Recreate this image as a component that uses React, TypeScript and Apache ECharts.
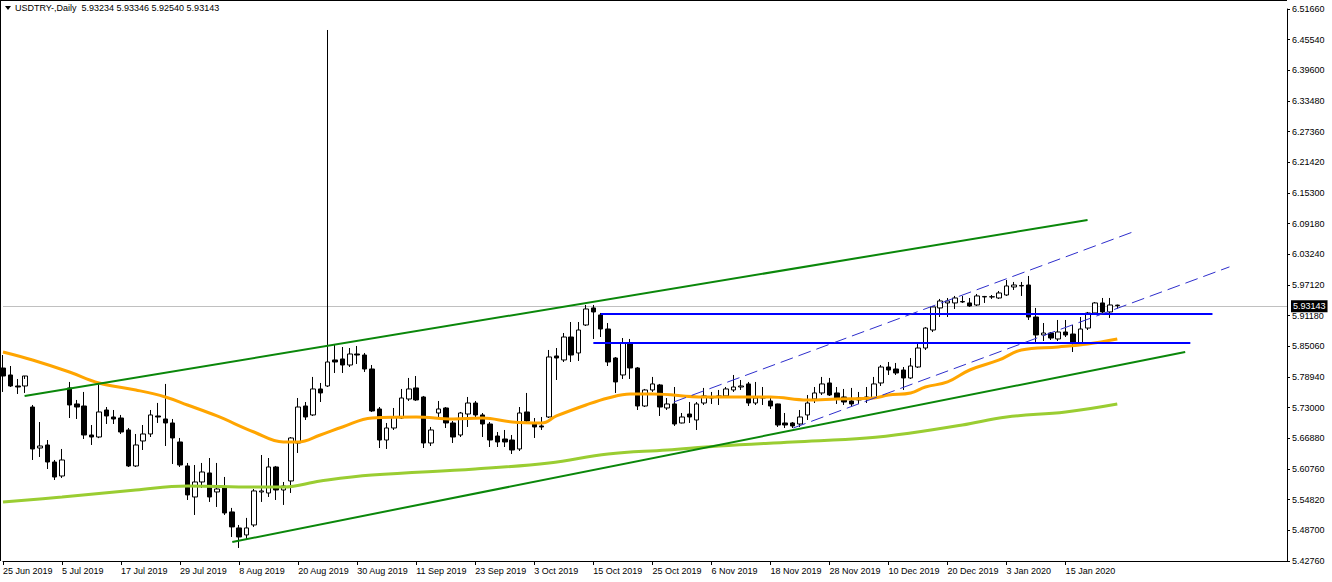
import React, { useEffect, useRef } from 'react';
import * as echarts from 'echarts';

// OHLC per daily bar (USDTRY)
const opens = [
  5.8083, 5.7946, 5.7729, 5.7729, 5.7314, 5.6505, 5.6565, 5.6229, 5.5953, 5.769,
  5.7374, 5.7334, 5.6762, 5.6722, 5.7255, 5.7117, 5.7097, 5.6861, 5.6151, 5.6644,
  5.6782, 5.7137, 5.7078, 5.6999, 5.6624, 5.6151, 5.5539, 5.5835, 5.6013, 5.5638,
  5.5717, 5.5244, 5.4928, 5.479, 5.4987, 5.5638, 5.5618, 5.6131, 5.5677, 5.5855,
  5.6604, 5.7334, 5.7157, 5.767, 5.7729, 5.8242, 5.8262, 5.8143, 5.836, 5.834,
  5.8064, 5.7275, 5.6663, 5.69, 5.7097, 5.7472, 5.769, 5.7512, 5.6604, 5.7196,
  5.7295, 5.6999, 5.6762, 5.7176, 5.7393, 5.7157, 5.6979, 5.6742, 5.6683, 5.6663,
  5.6486, 5.7216, 5.6999, 5.694, 5.7117, 5.8321, 5.8242, 5.8695, 5.838, 5.8932,
  5.9268, 5.913, 5.8853, 5.8281, 5.7946, 5.8577, 5.8084, 5.7334, 5.765, 5.7749,
  5.7295, 5.7374, 5.6999, 5.7176, 5.7058, 5.7393, 5.7492, 5.7512, 5.7532, 5.765,
  5.7709, 5.7769, 5.7393, 5.7492, 5.7433, 5.7374, 5.6999, 5.6999, 5.6979, 5.7157,
  5.7472, 5.7591, 5.7788, 5.7591, 5.7512, 5.7433, 5.7453, 5.7472, 5.7492, 5.7788,
  5.8103, 5.8064, 5.8044, 5.7887, 5.8103, 5.8478, 5.8833, 5.9268, 5.9367, 5.9367,
  5.9386, 5.9367, 5.9327, 5.9485, 5.9485, 5.9465, 5.9524, 5.9682, 5.9702, 5.9721,
  5.909, 5.8735, 5.8774, 5.8656, 5.8794, 5.8754, 5.8577, 5.8872, 5.9169, 5.9367,
  5.9189, 5.93234,
];
const highs = [
  5.834, 5.8123, 5.7867, 5.7867, 5.7354, 5.7018, 5.6663, 5.6269, 5.6486, 5.7808,
  5.7453, 5.7611, 5.6959, 5.7788, 5.7314, 5.7255, 5.7157, 5.69, 5.6782, 5.6959,
  5.7255, 5.7394, 5.7769, 5.7078, 5.6703, 5.621, 5.617, 5.621, 5.6308, 5.621,
  5.5934, 5.5323, 5.4987, 5.5126, 5.5697, 5.6367, 5.6308, 5.6151, 5.5835, 5.6722,
  5.7492, 5.7413, 5.7907, 5.7788, 6.4752, 5.8537, 5.8498, 5.8478, 5.8518, 5.838,
  5.8143, 5.7314, 5.6999, 5.7295, 5.767, 5.7887, 5.7926, 5.7532, 5.692, 5.7433,
  5.7314, 5.7038, 5.7216, 5.7512, 5.7433, 5.7196, 5.7018, 5.6821, 5.6861, 5.6762,
  5.7314, 5.7591, 5.7097, 5.7117, 5.8439, 5.8478, 5.8774, 5.8991, 5.8991, 5.9327,
  5.9327, 5.9169, 5.8971, 5.83, 5.8675, 5.8656, 5.8103, 5.767, 5.7907, 5.7769,
  5.7492, 5.7709, 5.7196, 5.7413, 5.7413, 5.769, 5.7611, 5.765, 5.7709, 5.7946,
  5.7847, 5.7808, 5.7808, 5.7709, 5.7492, 5.738, 5.7196, 5.7018, 5.7255, 5.7551,
  5.7709, 5.7907, 5.7887, 5.7709, 5.767, 5.769, 5.7611, 5.7709, 5.7907, 5.8143,
  5.8202, 5.8183, 5.8103, 5.8281, 5.8577, 5.8892, 5.93, 5.9446, 5.9465, 5.9505,
  5.9505, 5.9465, 5.9544, 5.9505, 5.9524, 5.9603, 5.982, 5.9781, 5.9781, 5.9899,
  5.9268, 5.8971, 5.8794, 5.9031, 5.9031, 5.8932, 5.909, 5.9189, 5.9386, 5.9465,
  5.9465, 5.93346,
];
const lows = [
  5.7611, 5.7709, 5.7571, 5.7591, 5.6269, 5.6328, 5.6091, 5.5874, 5.5914, 5.7097,
  5.7078, 5.6683, 5.6565, 5.67, 5.6979, 5.6979, 5.6782, 5.6131, 5.613, 5.6466,
  5.6722, 5.6999, 5.6545, 5.619, 5.6131, 5.548, 5.5184, 5.5717, 5.5441, 5.5342,
  5.5184, 5.475, 5.4533, 5.4711, 5.4948, 5.5441, 5.5539, 5.548, 5.5382, 5.5618,
  5.6407, 5.7058, 5.7137, 5.7413, 5.7709, 5.7985, 5.7985, 5.8103, 5.8163, 5.8005,
  5.7216, 5.6505, 5.6486, 5.6861, 5.7078, 5.7433, 5.7433, 5.6505, 5.6545, 5.7117,
  5.69, 5.6604, 5.6722, 5.692, 5.7117, 5.6722, 5.6525, 5.6525, 5.6525, 5.6387,
  5.6446, 5.6999, 5.6703, 5.6861, 5.7097, 5.7847, 5.8202, 5.8202, 5.8222, 5.8912,
  5.8656, 5.8695, 5.8123, 5.7591, 5.7867, 5.7867, 5.7255, 5.7314, 5.7611, 5.7137,
  5.7255, 5.694, 5.699, 5.6999, 5.6861, 5.7354, 5.7374, 5.7354, 5.7512, 5.7611,
  5.765, 5.7334, 5.7354, 5.7354, 5.7275, 5.692, 5.69, 5.69, 5.692, 5.7058,
  5.7393, 5.7551, 5.7532, 5.7374, 5.7354, 5.7314, 5.7374, 5.7393, 5.7472, 5.7729,
  5.7946, 5.7946, 5.765, 5.7867, 5.8084, 5.8439, 5.8793, 5.909, 5.909, 5.9248,
  5.9367, 5.9288, 5.9307, 5.9367, 5.9446, 5.9446, 5.9505, 5.9623, 5.9505, 5.9031,
  5.8597, 5.8616, 5.8636, 5.8616, 5.8695, 5.8399, 5.8557, 5.8833, 5.913, 5.9169,
  5.9071, 5.9254,
];
const closes = [
  5.7926, 5.7729, 5.7709, 5.7926, 5.6486, 5.6545, 5.6229, 5.5933, 5.6269, 5.7354,
  5.7314, 5.6762, 5.6722, 5.7216, 5.7137, 5.7078, 5.6821, 5.6151, 5.6565, 5.6782,
  5.7157, 5.7117, 5.6999, 5.6703, 5.617, 5.5579, 5.5835, 5.6032, 5.5539, 5.5697,
  5.5224, 5.4948, 5.475, 5.4928, 5.5658, 5.5658, 5.6131, 5.5677, 5.5756, 5.6703,
  5.7314, 5.7117, 5.767, 5.7591, 5.8202, 5.8202, 5.8143, 5.836, 5.834, 5.8064,
  5.7236, 5.6663, 5.69, 5.7117, 5.7492, 5.767, 5.7453, 5.6604, 5.6861, 5.7275,
  5.6999, 5.6722, 5.7196, 5.7393, 5.7157, 5.6979, 5.6663, 5.6624, 5.6624, 5.6466,
  5.7196, 5.7038, 5.692, 5.692, 5.8301, 5.8281, 5.8695, 5.834, 5.8833, 5.9248,
  5.9189, 5.8853, 5.8202, 5.7808, 5.8577, 5.8084, 5.7334, 5.765, 5.7769, 5.7314,
  5.7374, 5.6979, 5.7117, 5.7117, 5.7374, 5.7532, 5.7512, 5.7532, 5.767, 5.7709,
  5.7729, 5.7393, 5.7492, 5.7502, 5.7334, 5.6959, 5.6959, 5.694, 5.7117, 5.7393,
  5.7591, 5.7769, 5.7551, 5.7492, 5.7413, 5.7374, 5.7492, 5.7512, 5.7769, 5.8103,
  5.8044, 5.7985, 5.7887, 5.8123, 5.8478, 5.8872, 5.9288, 5.9406, 5.9406, 5.9465,
  5.9396, 5.9307, 5.9505, 5.9495, 5.949, 5.9564, 5.9702, 5.9721, 5.9712, 5.909,
  5.8735, 5.8774, 5.8675, 5.8794, 5.8735, 5.8577, 5.8853, 5.9169, 5.9367, 5.9189,
  5.9327, 5.93143,
];

const xTickLabels = [
  '25 Jun 2019', '5 Jul 2019', '17 Jul 2019', '29 Jul 2019', '8 Aug 2019', '20 Aug 2019',
  '30 Aug 2019', '11 Sep 2019', '23 Sep 2019', '3 Oct 2019', '15 Oct 2019', '25 Oct 2019',
  '6 Nov 2019', '18 Nov 2019', '28 Nov 2019', '10 Dec 2019', '20 Dec 2019', '3 Jan 2020',
  '15 Jan 2020',
];
const yTickLabels = [
  '5.42760', '5.48700', '5.54820', '5.60760', '5.66880', '5.73000', '5.78940', '5.85060',
  '5.91180', '5.97120', '6.03240', '6.09180', '6.15300', '6.21420', '6.27360', '6.33480',
  '6.39600', '6.45540', '6.51660',
];
const yMin = 5.4276;
const yMax = 6.5166;
const currentPrice = 5.93143;
const symbolName = 'USDTRY-,Daily';
const titleOHLC = ['5.93234', '5.93346', '5.92540', '5.93143'];

// moving averages: [bar index, price]
const maOrange = [
  [0, 5.84], [4, 5.8242], [9, 5.8005], [13, 5.7788], [18, 5.765], [22, 5.7512], [25, 5.7354],
  [29, 5.7137], [34, 5.6821], [38, 5.6624], [40, 5.6624], [43, 5.6762], [46, 5.692], [50, 5.7097],
  [56, 5.7117], [61, 5.7078], [65, 5.7097], [69, 5.7018], [73, 5.6999], [75, 5.7137], [79, 5.7354],
  [82, 5.7492], [85, 5.7571], [88, 5.7571], [95, 5.7512], [100, 5.7512], [104, 5.7512],
  [109, 5.7453], [113, 5.7472], [118, 5.7492], [120, 5.7551], [123, 5.7591], [125, 5.7709],
  [128, 5.7808], [131, 5.8044], [135, 5.8242], [138, 5.8439], [143, 5.8498], [147, 5.8557],
  [151, 5.8656],
];
const maGreen = [
  [0, 5.5441], [8, 5.5539], [18, 5.5677], [25, 5.5756], [34, 5.5736], [38, 5.5736], [43, 5.5855],
  [50, 5.5973], [64, 5.6091], [74, 5.621], [82, 5.6387], [90, 5.6466], [97, 5.6545], [107, 5.6624],
  [117, 5.6703], [123, 5.6801], [130, 5.6959], [136, 5.7117], [144, 5.7216], [151, 5.7374],
];

// drawn objects: [bar index, price]
const upperChannel = [[2.93, 5.7532], [146.97, 6.1004]];
const lowerChannel = [[31.07, 5.4651], [160.2, 5.84]];
const resistanceLine = [[81.0, 5.9149], [163.9, 5.9149]];
const supportLine = [[80.0, 5.8577], [160.9, 5.8577]];
const dashedUpper = [[90.9, 5.7413], [153.1, 6.0767]];
const dashedLower = [[107.1, 5.69], [166.2, 6.0078]];

const TOTAL_SLOTS = 175;
const MONTHS = ['Jan', 'Feb', 'Mar', 'Apr', 'May', 'Jun', 'Jul', 'Aug', 'Sep', 'Oct', 'Nov', 'Dec'];

function buildCategories(): string[] {
  const out: string[] = [];
  let t = Date.UTC(2019, 5, 25);
  while (out.length < opens.length) {
    const d = new Date(t);
    const wd = d.getUTCDay();
    const m = d.getUTCMonth();
    const day = d.getUTCDate();
    const holiday = (m === 11 && day === 25) || (m === 0 && day === 1);
    if (wd !== 0 && wd !== 6 && !holiday) out.push(`${day} ${MONTHS[m]} ${d.getUTCFullYear()}`);
    t += 86400000;
  }
  for (let i = out.length; i < TOTAL_SLOTS; i++) out.push(`slot${i}`);
  return out;
}

const FONT = 'Liberation Sans, Arial, sans-serif';

export default function App() {
  const ref = useRef<HTMLDivElement>(null);
  useEffect(() => {
    document.body.style.margin = '0';
    if (!ref.current) return;
    const chart = echarts.init(ref.current, undefined, { renderer: 'svg' });
    const categories = buildCategories();
    const candles = opens.map((o, i) => [o, closes[i], lows[i], highs[i]]);
    const showTick = (i: number) => i % 8 === 0 && i <= 144;

    const lineSeries = (data: number[][], color: string, width: number, type: any = 'solid', smooth: any = false, z = 3) => ({
      type: 'line',
      xAxisIndex: 1,
      yAxisIndex: 0,
      data,
      symbol: 'none',
      smooth,
      silent: true,
      z,
      lineStyle: { color, width, type },
    });

    chart.setOption({
      animation: false,
      backgroundColor: '#ffffff',
      textStyle: { fontFamily: FONT },
      grid: { left: 2, right: 45, top: 9, bottom: 21, containLabel: false },
      xAxis: [
        {
          type: 'category',
          data: categories,
          boundaryGap: false,
          axisLine: { show: true, lineStyle: { color: '#000', width: 1 } },
          axisTick: { show: true, length: 4, interval: (i: number) => showTick(i), lineStyle: { color: '#000' } },
          axisLabel: {
            show: true,
            interval: (i: number) => showTick(i),
            formatter: (_v: string, i: number) => xTickLabels[i / 8] ?? '',
            align: 'left',
            fontSize: 9,
            fontFamily: FONT,
            color: '#000',
            margin: 5,
          },
          splitLine: { show: false },
        },
        { type: 'value', min: 0, max: TOTAL_SLOTS - 1, show: false },
      ],
      yAxis: [
        { type: 'value', min: yMin, max: yMax, show: false, scale: true },
        {
          type: 'category',
          data: yTickLabels,
          boundaryGap: false,
          position: 'right',
          axisLine: { show: true, lineStyle: { color: '#000', width: 1 } },
          axisTick: { show: true, length: 3, lineStyle: { color: '#000' } },
          axisLabel: { fontSize: 9, fontFamily: FONT, color: '#000', margin: 5 },
          splitLine: { show: false },
        },
      ],
      graphic: [
        { type: 'line', shape: { x1: 0.5, y1: 0, x2: 0.5, y2: 561 }, style: { stroke: '#000', lineWidth: 1 }, silent: true },
        { type: 'line', shape: { x1: 0, y1: 0.5, x2: 1287, y2: 0.5 }, style: { stroke: '#000', lineWidth: 1 }, silent: true },
        { type: 'polygon', shape: { points: [[5, 6], [11, 6], [8, 10]] }, style: { fill: '#000' }, silent: true },
        {
          type: 'text',
          x: 15,
          y: 3,
          silent: true,
          style: { text: `${symbolName}  ${titleOHLC.join(' ')}`, fill: '#000', font: `9px ${FONT}` },
        },
      ],
      series: [
        {
          type: 'candlestick',
          xAxisIndex: 0,
          yAxisIndex: 0,
          data: candles,
          barWidth: 5,
          clip: false,
          z: 2,
          itemStyle: {
            color: '#ffffff',
            color0: '#000000',
            borderColor: '#000000',
            borderColor0: '#000000',
            borderWidth: 1,
          },
          markLine: {
            symbol: 'none',
            silent: true,
            z: 1,
            data: [{ yAxis: currentPrice }],
            lineStyle: { color: '#c0c0c0', type: 'solid', width: 1 },
            label: {
              show: true,
              position: 'end',
              distance: 4,
              formatter: currentPrice.toFixed(5),
              backgroundColor: '#000',
              color: '#fff',
              fontSize: 9,
              fontFamily: FONT,
              padding: [2, 2, 1, 2],
            },
          },
        },
        lineSeries(maGreen, '#9acd32', 3, 'solid', 0.4, 3),
        lineSeries(maOrange, '#ffa500', 3, 'solid', 0.4, 3),
        lineSeries(upperChannel, '#0a870a', 2),
        lineSeries(lowerChannel, '#0a870a', 2),
        lineSeries(resistanceLine, '#0000ff', 2),
        lineSeries(supportLine, '#0000ff', 2),
        lineSeries(dashedUpper, '#2e2ecc', 1, [13, 6]),
        lineSeries(dashedLower, '#2e2ecc', 1, [13, 6]),
      ],
    });
    return () => chart.dispose();
  }, []);
  return <div ref={ref} style={{ width: 1332, height: 582 }} />;
}
